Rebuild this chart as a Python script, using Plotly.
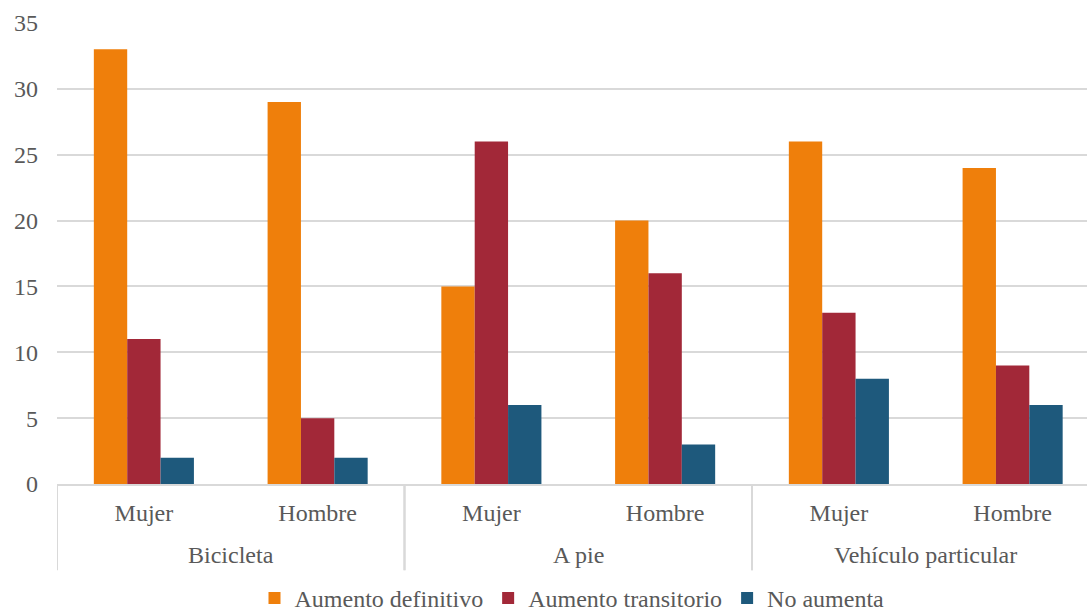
import plotly.graph_objects as go

modos = ["Bicicleta", "Bicicleta", "A pie", "A pie", "Vehículo particular", "Vehículo particular"]
sexos = ["Mujer", "Hombre", "Mujer", "Hombre", "Mujer", "Hombre"]

aumento_definitivo = [33, 29, 15, 20, 26, 24]
aumento_transitorio = [11, 5, 26, 16, 13, 9]
no_aumenta = [2, 2, 6, 3, 8, 6]

series = {
    "Aumento definitivo": (aumento_definitivo, "#EF7F0B"),
    "Aumento transitorio": (aumento_transitorio, "#A22838"),
    "No aumenta": (no_aumenta, "#1E597C"),
}

SERIF = "Liberation Serif, Times New Roman, serif"
GREY = "#595959"
LINE = "#d9d9d9"
font = dict(family=SERIF, size=24, color=GREY)

xpos = list(range(len(sexos)))

fig = go.Figure()
for name, (vals, color) in series.items():
    fig.add_trace(
        go.Bar(
            x=xpos,
            y=vals,
            name=name,
            marker_color=color,
            marker_line_width=0,
        )
    )

# group labels and dividers below the axis
groups = []
for i, m in enumerate(modos):
    if not groups or groups[-1][0] != m:
        groups.append([m, i, i])
    else:
        groups[-1][2] = i

for m, i0, i1 in groups:
    fig.add_annotation(
        x=(i0 + i1) / 2, xref="x",
        y=-0.154, yref="paper", yanchor="middle",
        text=m, showarrow=False, font=font,
    )
    for edge in (i0 - 0.5, i1 + 0.5):
        fig.add_shape(
            type="line", xref="x", yref="paper",
            x0=edge, x1=edge, y0=0, y1=-0.187,
            line=dict(color=LINE, width=2),
        )

fig.update_layout(
    width=1087, height=613,
    barmode="group",
    bargap=0.424,
    bargroupgap=0,
    margin=dict(l=57, r=0, t=23, b=129),
    plot_bgcolor="white",
    paper_bgcolor="white",
    font=font,
    showlegend=True,
    legend=dict(
        orientation="h",
        x=0.5, xanchor="center",
        yref="container",
        y=0.024, yanchor="middle",
        font=font,
        itemwidth=30,
        traceorder="normal",
    ),
)
fig.update_xaxes(
    tickvals=xpos, ticktext=sexos,
    range=[-0.5, 5.428],
    showline=True, linecolor=LINE, linewidth=2,
    showgrid=False, zeroline=False,
    ticks="", ticklabelstandoff=6,
    tickfont=font,
    automargin=False,
)
fig.update_yaxes(
    range=[0, 35], dtick=5,
    showgrid=True, gridcolor=LINE, gridwidth=2,
    zeroline=False,
    ticks="", ticklabelstandoff=18,
    tickfont=font,
    automargin=False,
)

fig.write_html(
    "out.html",
    config={"displayModeBar": False},
    post_script="document.body.style.margin='0';document.body.style.overflow='hidden';",
)
